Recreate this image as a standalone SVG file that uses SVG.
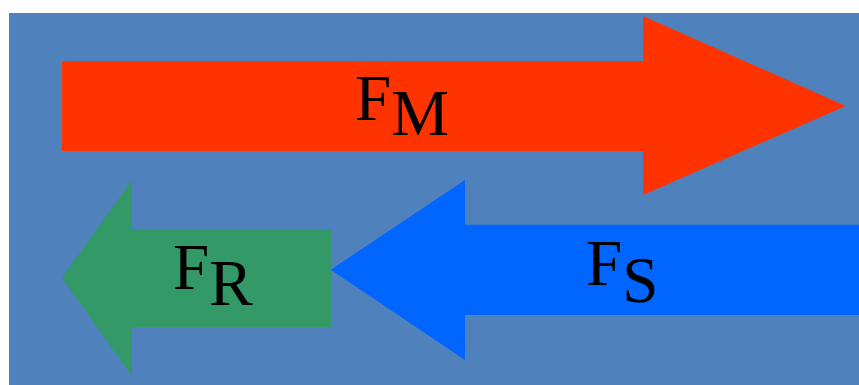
<svg xmlns="http://www.w3.org/2000/svg" width="859" height="385" viewBox="0 0 859 385">
<style>
.lbl{font-family:"Liberation Serif","Times New Roman",serif;font-size:65px;fill:#000}
</style>
<rect x="0" y="0" width="859" height="385" fill="#ffffff"/>
<rect x="9" y="13" width="850" height="372" fill="#4F81BD"/>
<g id="connectors">
<g id="FM">
<polygon points="62,61 643,61 643,16 845.7,106 643,195 643,151 62,151" fill="#FF3300"/>
<text class="lbl" x="355" y="120">F<tspan dy="15">M</tspan></text>
</g>
<g id="FR">
<polygon points="331,229 131.7,229 131.7,180.7 62,277.7 131.7,375.7 131.7,327 331,327" fill="#339966"/>
<text class="lbl" x="173" y="289">F<tspan dy="16">R</tspan></text>
</g>
<g id="FS">
<polygon points="859,224.7 465,224.7 465,180 330.7,269.7 465,360 465,315 859,315" fill="#0066FF"/>
<text class="lbl" x="586" y="285">F<tspan dy="16.5">S</tspan></text>
</g>
</g>
</svg>
